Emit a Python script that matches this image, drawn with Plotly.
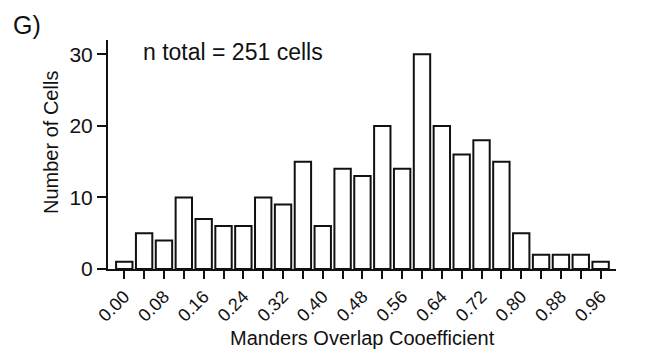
import plotly.graph_objects as go

bins = [0.00, 0.04, 0.08, 0.12, 0.16, 0.20, 0.24, 0.28, 0.32, 0.36, 0.40, 0.44, 0.48,
        0.52, 0.56, 0.60, 0.64, 0.68, 0.72, 0.76, 0.80, 0.84, 0.88, 0.92, 0.96]
counts = [1, 5, 4, 10, 7, 6, 6, 10, 9, 15, 6, 14, 13,
          20, 14, 30, 20, 16, 18, 15, 5, 2, 2, 2, 1]
tick_labels = ["0.00", "", "0.08", "", "0.16", "", "0.24", "", "0.32", "", "0.40", "", "0.48",
               "", "0.56", "", "0.64", "", "0.72", "", "0.80", "", "0.88", "", "0.96"]
y_ticks = [0, 10, 20, 30]

SANS = "Liberation Sans Narrow, Arial Narrow, Liberation Sans, Arial, sans-serif"
INK = "#111111"

W, H = 658, 351
pl, pr, pt, pb = 108, 42, 40, 82
pw, ph = W - pl - pr, H - pt - pb


def px_to_paper(x, y):
    return (x - pl) / pw, 1 - (y - pt) / ph


fig = go.Figure()
fig.add_trace(go.Bar(
    x=bins, y=counts, width=0.033,
    marker=dict(color="white", line=dict(color=INK, width=2)),
    showlegend=False,
))

nx, ny = px_to_paper(141, 52)
gx, gy = px_to_paper(11, 25)

fig.update_layout(
    width=W, height=H,
    margin=dict(l=pl, r=pr, t=pt, b=pb),
    paper_bgcolor="white", plot_bgcolor="white",
    font=dict(family=SANS, color=INK),
    xaxis=dict(
        range=[-0.0328, 0.991],
        tickmode="array", tickvals=bins, ticktext=tick_labels,
        tickangle=-45,
        ticks="outside", ticklen=8, tickwidth=2, tickcolor=INK,
        showline=True, linewidth=2, linecolor=INK,
        showgrid=False, zeroline=False,
        tickfont=dict(family=SANS, size=18, color=INK),
        automargin=False,
    ),
    yaxis=dict(
        range=[0, 32.0],
        tickmode="array", tickvals=y_ticks,
        ticks="outside", ticklen=9, tickwidth=2, tickcolor=INK,
        showline=True, linewidth=2, linecolor=INK,
        showgrid=False, zeroline=False,
        tickfont=dict(family=SANS, size=21, color=INK),
        automargin=False,
    ),
    annotations=[
        dict(text="n total = 251 cells", x=nx, y=ny, xref="paper", yref="paper",
             xanchor="left", yanchor="middle", showarrow=False,
             font=dict(family=SANS, size=23, color=INK)),
        dict(text="G)", x=gx, y=gy, xref="paper", yref="paper",
             xanchor="left", yanchor="middle", showarrow=False,
             font=dict(family=SANS, size=25, color=INK)),
        dict(text="Manders Overlap Cooefficient", x=0.5, y=0, xref="paper", yref="paper",
             xanchor="center", yanchor="middle", yshift=-(338 - (H - pb)), showarrow=False,
             font=dict(family=SANS, size=20, color=INK)),
        dict(text="Number of Cells", x=0, y=0.5, xref="paper", yref="paper",
             xanchor="center", yanchor="middle", xshift=-(pl - 51), yshift=(pt + ph / 2) - 143,
             textangle=-90, showarrow=False,
             font=dict(family=SANS, size=20, color=INK)),
    ],
)

fig.write_html("out.html", config={"displayModeBar": False},
               post_script="document.body.style.margin='0';")
